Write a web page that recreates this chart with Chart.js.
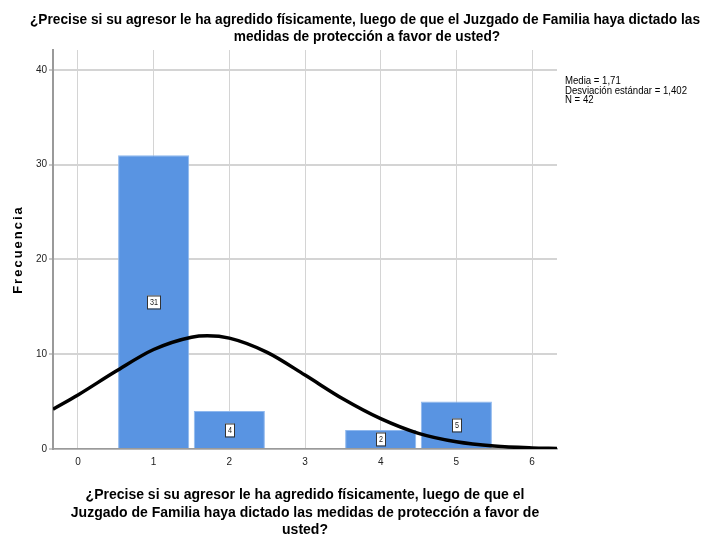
<!DOCTYPE html>
<html>
<head>
<meta charset="utf-8">
<script src="https://cdn.jsdelivr.net/npm/chart.js@4.4.1/dist/chart.umd.min.js"></script>
<style>
  html, body { margin: 0; padding: 0; background: #ffffff; }
  #wrap { width: 716px; height: 537px; position: relative; }
</style>
</head>
<body>
<div id="wrap"><canvas id="histogram"></canvas></div>
<script>
const binValues = [1, 2, 4, 5];
const binCounts = [31, 4, 2, 5];

// normal curve
const curveX = [-0.33, 0, 0.5, 1, 1.5, 1.71, 2, 2.5, 3, 3.5, 4, 4.5, 5, 5.5, 6, 6.33];
const curveY = [4.2, 5.7, 8.2, 10.5, 11.8, 11.95, 11.7, 10.2, 7.8, 5.3, 3.2, 1.65, 0.76, 0.31, 0.11, 0.05];

const xTicks = [0, 1, 2, 3, 4, 5, 6];
const yTicks = [0, 10, 20, 30, 40];

const titleLines = [
  "¿Precise si su agresor le ha agredido físicamente, luego de que el Juzgado de Familia haya dictado las",
  "medidas de protección a favor de usted?"
];
const xTitleLines = [
  "¿Precise si su agresor le ha agredido físicamente, luego de que el",
  "Juzgado de Familia haya dictado las medidas de protección a favor de",
  "usted?"
];
const yTitle = "Frecuencia";
const statsLines = ["Media = 1,71", "Desviación estándar = 1,402", "N = 42"];

const fontFamily = "'Liberation Sans', Arial, sans-serif";

// no narrow face installed, so squeeze the regular one
function drawSqueezed(ctx, text, x, y, factor) {
  ctx.save();
  ctx.translate(x, y);
  ctx.scale(factor, 1);
  ctx.fillText(text, 0, 0);
  ctx.restore();
}

const textPlugin = {
  id: "textPlugin",
  afterDraw(chart) {
    const ctx = chart.ctx;
    const area = chart.chartArea;
    ctx.save();
    ctx.fillStyle = "#000000";
    ctx.textBaseline = "middle";

    // top title
    ctx.textAlign = "center";
    ctx.font = "bold 15px " + fontFamily;
    const titleFactor = 670 / ctx.measureText(titleLines[0]).width;
    drawSqueezed(ctx, titleLines[0], 365, 20, titleFactor);
    drawSqueezed(ctx, titleLines[1], 367, 37, titleFactor);

    // x axis title
    ctx.font = "bold 14px " + fontFamily;
    const xMid = (area.left + area.right) / 2;
    ctx.fillText(xTitleLines[0], xMid, 495);
    ctx.fillText(xTitleLines[1], xMid, 513);
    ctx.fillText(xTitleLines[2], xMid, 530);

    // y axis title
    ctx.save();
    ctx.translate(18, (area.top + area.bottom) / 2);
    ctx.rotate(-Math.PI / 2);
    ctx.font = "bold 13px " + fontFamily;
    ctx.letterSpacing = "2px";
    ctx.fillText(yTitle, 0, 0);
    ctx.restore();

    // stats
    ctx.textAlign = "left";
    ctx.font = "11px " + fontFamily;
    const statsFactor = 122 / ctx.measureText(statsLines[1]).width;
    statsLines.forEach((line, i) => {
      drawSqueezed(ctx, line, 565, 81 + i * 9.5, statsFactor);
    });

    // bar value boxes
    const meta = chart.getDatasetMeta(1);
    ctx.font = "9px " + fontFamily;
    ctx.textAlign = "center";
    meta.data.forEach((bar, i) => {
      const label = String(binCounts[i]);
      const cy = Math.round((bar.y + bar.base) / 2);
      const w = Math.round(ctx.measureText(label).width * 0.8) + 5;
      const h = 13;
      const left = Math.round(bar.x - w / 2);
      ctx.fillStyle = "#ffffff";
      ctx.fillRect(left, cy - h / 2, w, h);
      ctx.strokeStyle = "#333333";
      ctx.lineWidth = 1;
      ctx.strokeRect(left + 0.5, cy - h / 2 + 0.5, w, h);
      ctx.fillStyle = "#222222";
      drawSqueezed(ctx, label, left + w / 2 + 0.5, cy + 1, 0.8);
    });
    ctx.restore();
  }
};

new Chart(document.getElementById("histogram"), {
  type: "bar",
  data: {
    datasets: [
      {
        type: "line",
        data: curveX.map((x, i) => ({ x, y: curveY[i] })),
        borderColor: "#000000",
        borderWidth: 3.5,
        pointRadius: 0,
        tension: 0.4,
        cubicInterpolationMode: "monotone",
        fill: false,
        order: 0
      },
      {
        type: "bar",
        data: binValues.map((x, i) => ({ x, y: binCounts[i] })),
        backgroundColor: "#5994e2",
        borderColor: "#8fb8ee",
        borderWidth: 1,
        barPercentage: 0.94,
        categoryPercentage: 1,
        order: 1
      }
    ]
  },
  options: {
    responsive: true,
    maintainAspectRatio: false,
    animation: false,
    layout: { padding: { top: 50, right: 159, left: 0, bottom: 0 } },
    plugins: {
      legend: { display: false },
      tooltip: { enabled: false },
      title: { display: false }
    },
    scales: {
      x: {
        type: "linear",
        offset: false,
        min: -0.33,
        max: 6.33,
        afterBuildTicks(scale) {
          scale.ticks = xTicks.map((v) => ({ value: v }));
        },
        afterFit(scale) {
          scale.height = 88;
        },
        grid: { color: "#d4d4d4", lineWidth: 1, drawTicks: false, offset: false },
        border: { color: "#9a9a9a", width: 1.5 },
        ticks: {
          padding: 7,
          color: "#222222",
          font: { family: fontFamily, size: 10 }
        }
      },
      y: {
        min: 0,
        max: 42.1,
        afterBuildTicks(scale) {
          scale.ticks = yTicks.map((v) => ({ value: v }));
        },
        afterFit(scale) {
          scale.width = 53;
        },
        grid: { color: "#d4d4d4", lineWidth: 2, drawTicks: true, tickLength: 4, tickColor: "#c8c8c8" },
        border: { color: "#9a9a9a", width: 2 },
        ticks: {
          padding: 2,
          color: "#222222",
          font: { family: fontFamily, size: 10 }
        }
      }
    }
  },
  plugins: [textPlugin]
});
</script>
</body>
</html>
